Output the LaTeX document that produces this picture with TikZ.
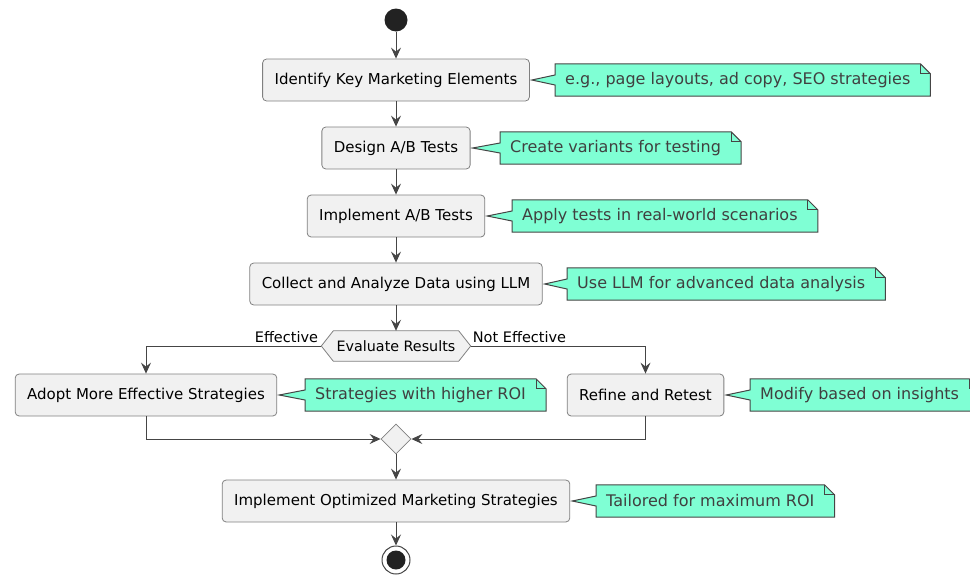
\documentclass[tikz,border=0pt]{standalone}
\usepackage{fontspec}
\setmainfont{DejaVu Sans}
\usetikzlibrary{arrows.meta,backgrounds,calc,shapes.geometric}

\definecolor{linec}{HTML}{454545}
\definecolor{boxfill}{HTML}{F1F1F1}
\definecolor{boxline}{HTML}{808080}
\definecolor{notefill}{HTML}{7FFFD4}
\definecolor{notetext}{HTML}{404040}
\definecolor{dotc}{HTML}{222222}

\tikzset{
  flow/.style={draw=linec, line width=1pt, -{Stealth[length=11pt,width=10pt,inset=4pt]}},
  actbox/.style={draw=boxline, fill=boxfill, line width=0.8pt, rounded corners=4pt,
    minimum height=42pt, inner xsep=12pt, font=\fontsize{15}{17}\selectfont, text=black},
  notetxt/.style={inner xsep=10pt, minimum height=32pt, font=\fontsize{16}{18}\selectfont,
    text=notetext, anchor=west},
  noteshape/.style={draw=linec, fill=notefill, line width=1pt, line join=miter},
  lbl/.style={font=\fontsize{14.5}{16}\selectfont, text=black, inner sep=1pt},
}

% draws a note with folded corner, pointing at the east side of a node
\newcommand\drawnote[2]{%
  \begin{scope}[on background layer]
    \draw[noteshape] (#1.north west) -- (#1.north east)
      -- ([xshift=10pt,yshift=-10pt]#1.north east) -- ([xshift=10pt]#1.south east)
      -- (#1.south west) -- ([yshift=-5pt]#1.west) -- ([xshift=2pt]#2.east)
      -- ([yshift=5pt]#1.west) -- cycle;
    \draw[linec, line width=1pt] (#1.north east) |- ([xshift=10pt,yshift=-10pt]#1.north east);
  \end{scope}}

\begin{document}
\begin{tikzpicture}[x=1pt,y=-1pt]
\useasboundingbox (0,0) rectangle (970,576);

% start and activities
\node[circle, fill=dotc, minimum size=23pt, inner sep=0pt] (start) at (396,20) {};
\node[actbox] (b1) at (396,80) {Identify Key Marketing Elements};
\node[actbox] (b2) at (396,148) {Design A/B Tests};
\node[actbox] (b3) at (396,216) {Implement A/B Tests};
\node[actbox] (b4) at (396,284) {Collect and Analyze Data using LLM};

% decision
\node[minimum width=149pt, minimum height=30pt, inner sep=0pt,
      font=\fontsize{14.3}{16}\selectfont] (eval) at (396,346) {Evaluate Results};
\begin{scope}[on background layer]
  \draw[draw=boxline, fill=boxfill, line width=0.8pt]
    (eval.west) -- ([xshift=12pt]eval.north west) -- ([xshift=-12pt]eval.north east)
    -- (eval.east) -- ([xshift=-12pt]eval.south east) -- ([xshift=12pt]eval.south west) -- cycle;
\end{scope}

\node[actbox] (b5) at (146,395) {Adopt More Effective Strategies};
\node[actbox] (b6) at (645.5,395) {Refine and Retest};

% merge
\node[diamond, draw=boxline, fill=boxfill, line width=0.8pt, minimum size=30pt, inner sep=0pt,
      aspect=1] (merge) at (396,439) {};

\node[actbox] (b7) at (396,501) {Implement Optimized Marketing Strategies};

% end
\node[circle, draw=linec, fill=white, line width=1pt, minimum size=28pt, inner sep=0pt] (end) at (396,560) {};
\fill[dotc] (end.center) circle (9.5);

% notes
\node[notetxt] (n1) at (555,80) {e.g., page layouts, ad copy, SEO strategies};
\node[notetxt] (n2) at (500,148) {Create variants for testing};
\node[notetxt] (n3) at (512,216) {Apply tests in real-world scenarios};
\node[notetxt] (n4) at (567,284) {Use LLM for advanced data analysis};
\node[notetxt] (n5) at (305,395) {Strategies with higher ROI};
\node[notetxt] (n6) at (750,395) {Modify based on insights};
\node[notetxt] (n7) at (596,501) {Tailored for maximum ROI};
\drawnote{n1}{b1}
\drawnote{n2}{b2}
\drawnote{n3}{b3}
\drawnote{n4}{b4}
\drawnote{n5}{b5}
\drawnote{n6}{b6}
\drawnote{n7}{b7}

% connectors
\draw[flow] (start) -- (b1);
\draw[flow] (b1) -- (b2);
\draw[flow] (b2) -- (b3);
\draw[flow] (b3) -- (b4);
\draw[flow] (b4) -- (eval);
\draw[flow] (eval.west) -| (b5.north);
\draw[flow] (eval.east) -| (b6.north);
\node[lbl, anchor=base east] at ([xshift=-2pt,yshift=4pt]eval.west) {Effective};
\node[lbl, anchor=base west] at ([xshift=1pt,yshift=4pt]eval.east) {Not Effective};
\draw[flow] (b5.south) |- (merge.west);
\draw[flow] (b6.south) |- (merge.east);
\draw[flow] (merge) -- (b7);
\draw[flow] (b7) -- (end);
\end{tikzpicture}
\end{document}
